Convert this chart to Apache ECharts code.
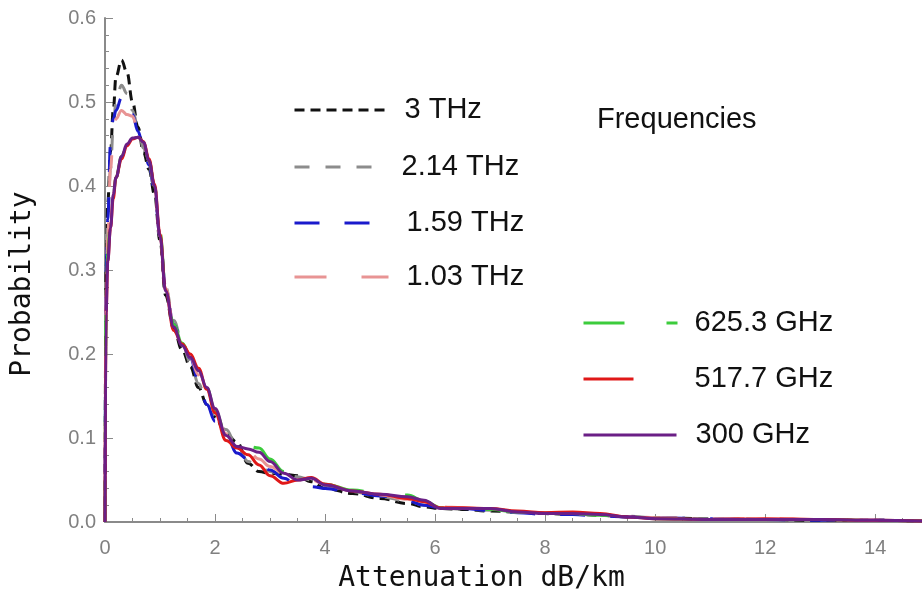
<!DOCTYPE html>
<html>
<head>
    <meta charset="utf-8">
    <title>Attenuation probability</title>
    <script src="https://cdn.jsdelivr.net/npm/echarts@6/dist/echarts.min.js"></script>
    <style>
        body { margin: 0; background: #fff; }
    </style>
</head>
<body>
<div id="main" style="width: 922px;height:599px;"></div>
<script type="text/javascript">
    // attenuation grid (dB/km), shared by all curves
    var xs = [0, 0.02, 0.05, 0.1, 0.15, 0.2, 0.3, 0.4, 0.5, 0.6, 0.7, 0.8, 0.9, 1.0, 1.1, 1.25, 1.4, 1.55, 1.7, 1.85,
        2.0, 2.2, 2.4, 2.6, 2.8, 3.0, 3.25, 3.5, 3.75, 4.0, 4.5, 5.0, 5.5, 5.8, 6.1, 6.5, 7.0, 7.5, 8.0, 8.5,
        9.0, 9.5, 10, 11, 12, 13, 14, 15];

    var thz3 = [0, 0.30, 0.38, 0.44, 0.49, 0.53, 0.55, 0.535, 0.50, 0.47, 0.44, 0.42, 0.39, 0.335, 0.27, 0.23, 0.205, 0.185, 0.16, 0.14,
        0.125, 0.105, 0.095, 0.07, 0.06, 0.058, 0.057, 0.055, 0.048, 0.04, 0.034, 0.028, 0.022, 0.018, 0.016, 0.015, 0.013, 0.012, 0.010, 0.009,
        0.008, 0.006, 0.005, 0.004, 0.003, 0.002, 0.002, 0.001];
    var thz214 = [0, 0.28, 0.36, 0.42, 0.47, 0.50, 0.52, 0.51, 0.49, 0.47, 0.445, 0.425, 0.395, 0.34, 0.28, 0.24, 0.215, 0.19, 0.165, 0.14,
        0.125, 0.11, 0.09, 0.072, 0.066, 0.06, 0.056, 0.054, 0.05, 0.043, 0.036, 0.03, 0.025, 0.02, 0.017, 0.015, 0.014, 0.012, 0.011, 0.010,
        0.008, 0.007, 0.005, 0.004, 0.003, 0.003, 0.002, 0.001];
    var thz159 = [0, 0.30, 0.36, 0.45, 0.48, 0.49, 0.505, 0.505, 0.485, 0.465, 0.445, 0.425, 0.395, 0.34, 0.28, 0.235, 0.215, 0.195, 0.168, 0.14,
        0.12, 0.104, 0.082, 0.075, 0.068, 0.062, 0.052, 0.044, 0.042, 0.04, 0.035, 0.031, 0.025, 0.02, 0.017, 0.016, 0.014, 0.011, 0.009, 0.009,
        0.007, 0.006, 0.005, 0.004, 0.003, 0.002, 0.002, 0.001];
    var thz103 = [0, 0.27, 0.34, 0.42, 0.46, 0.48, 0.49, 0.485, 0.483, 0.465, 0.452, 0.43, 0.40, 0.34, 0.278, 0.235, 0.212, 0.196, 0.175, 0.155,
        0.13, 0.105, 0.092, 0.084, 0.075, 0.066, 0.058, 0.055, 0.05, 0.045, 0.038, 0.032, 0.027, 0.022, 0.018, 0.017, 0.015, 0.012, 0.011, 0.010,
        0.009, 0.007, 0.005, 0.004, 0.004, 0.003, 0.002, 0.001];
    var ghz625 = [0, 0.26, 0.32, 0.36, 0.39, 0.41, 0.435, 0.45, 0.457, 0.458, 0.452, 0.43, 0.40, 0.345, 0.28, 0.235, 0.213, 0.198, 0.18, 0.16,
        0.133, 0.105, 0.092, 0.09, 0.088, 0.075, 0.06, 0.052, 0.05, 0.045, 0.038, 0.034, 0.032, 0.025, 0.017, 0.016, 0.015, 0.012, 0.010, 0.010,
        0.008, 0.006, 0.004, 0.003, 0.003, 0.003, 0.002, 0.001];
    var ghz517 = [0, 0.25, 0.31, 0.35, 0.385, 0.41, 0.432, 0.448, 0.456, 0.458, 0.453, 0.432, 0.402, 0.343, 0.276, 0.228, 0.212, 0.20, 0.183, 0.158,
        0.13, 0.097, 0.088, 0.08, 0.068, 0.055, 0.046, 0.05, 0.053, 0.045, 0.037, 0.033, 0.028, 0.024, 0.017, 0.017, 0.016, 0.013, 0.011, 0.012,
        0.010, 0.006, 0.004, 0.003, 0.004, 0.003, 0.002, 0.001];
    var ghz300 = [0, 0.25, 0.31, 0.35, 0.39, 0.41, 0.435, 0.45, 0.457, 0.458, 0.452, 0.43, 0.40, 0.34, 0.275, 0.232, 0.21, 0.196, 0.18, 0.16,
        0.135, 0.103, 0.09, 0.087, 0.083, 0.072, 0.058, 0.05, 0.052, 0.044, 0.037, 0.033, 0.03, 0.026, 0.016, 0.016, 0.016, 0.012, 0.010, 0.010,
        0.009, 0.006, 0.004, 0.003, 0.003, 0.003, 0.002, 0.001];

    var names = ['3 THz', '2.14 THz', '1.59 THz', '1.03 THz', '625.3 GHz', '517.7 GHz', '300 GHz'];
    var curves = [thz3, thz214, thz159, thz103, ghz625, ghz517, ghz300];
    var colors = ['#111111', '#8c8c8c', '#1a1acc', '#e89494', '#3ccc3c', '#e01818', '#6b1f86'];
    var dashes = [[10, 6], [15, 16], [25, 25], [32, 35], [41, 42], 'solid', 'solid'];

    // legend placement: [left, centre y, line length, text x]
    var legendPos = [
        [293, 110, 94, 403],
        [293, 167, 77, 400],
        [293, 223, 75, 405],
        [293, 277, 94, 405],
        [582, 323, 94, 693],
        [582, 379, 94, 693],
        [582, 435, 93, 694]
    ];

    var myChart = echarts.init(document.getElementById('main'));

    var series = names.map(function (n, k) {
        return {
            name: n,
            type: 'line',
            data: xs.map(function (x, i) { return [x, curves[k][i]]; }),
            smooth: 0.4,
            smoothMonotone: 'x',
            symbol: 'none',
            lineStyle: { color: colors[k], width: 3, type: dashes[k] },
            itemStyle: { color: colors[k] },
            z: 2 + k
        };
    });

    var legends = names.map(function (n, k) {
        var p = legendPos[k];
        var dash = k === 5 ? [50, 100] : dashes[k];
        return {
            data: [n],
            left: p[0],
            top: p[1] - 15,
            padding: 0,
            itemWidth: p[2],
            itemHeight: 30,
            selectedMode: false,
            itemStyle: { opacity: 0 },
            lineStyle: { width: 3, type: dash, color: colors[k] },
            textStyle: {
                fontFamily: 'Liberation Sans',
                fontSize: 29,
                lineHeight: 30,
                color: '#111',
                padding: [0, 0, 0, p[3] - (p[0] + p[2] + 5)]
            }
        };
    });

    var option = {
        animation: false,
        backgroundColor: '#fff',
        title: {
            text: 'Frequencies',
            left: 597,
            top: 105,
            padding: 0,
            textStyle: { fontFamily: 'Liberation Sans', fontSize: 29, fontWeight: 'normal', color: '#111', lineHeight: 30 }
        },
        legend: legends,
        grid: { left: 105, right: 0, top: 18, bottom: 77 },
        xAxis: {
            type: 'value',
            min: 0,
            max: 14.85,
            interval: 2,
            name: 'Attenuation dB/km',
            nameLocation: 'middle',
            nameGap: 43,
            nameTextStyle: { fontFamily: 'DejaVu Sans Mono', fontSize: 28, color: '#111', padding: [0, 64, 0, 0] },
            axisLine: { lineStyle: { color: '#8a8a8a', width: 2 } },
            axisTick: { inside: true, length: 8, lineStyle: { color: '#8a8a8a' } },
            minorTick: { show: true, splitNumber: 4, length: 4, lineStyle: { color: '#8a8a8a' } },
            axisLabel: { fontFamily: 'Liberation Sans', fontSize: 20, color: '#808080', margin: 16, showMaxLabel: false },
            splitLine: { show: false }
        },
        yAxis: {
            type: 'value',
            min: 0,
            max: 0.6,
            interval: 0.1,
            name: 'Probability',
            nameLocation: 'middle',
            nameGap: 68,
            nameTextStyle: { fontFamily: 'DejaVu Sans Mono', fontSize: 28, color: '#111', padding: [0, 28, 0, 0] },
            axisLine: { show: true, lineStyle: { color: '#8a8a8a', width: 2 } },
            axisTick: { show: true, inside: true, length: 8, lineStyle: { color: '#8a8a8a' } },
            minorTick: { show: true, splitNumber: 5, length: 4, lineStyle: { color: '#8a8a8a' } },
            axisLabel: {
                fontFamily: 'Liberation Sans', fontSize: 20, color: '#808080', margin: 9,
                formatter: function (v) { return v.toFixed(1); }
            },
            splitLine: { show: false }
        },
        series: series
    };

    myChart.setOption(option);
</script>
</body>
</html>
